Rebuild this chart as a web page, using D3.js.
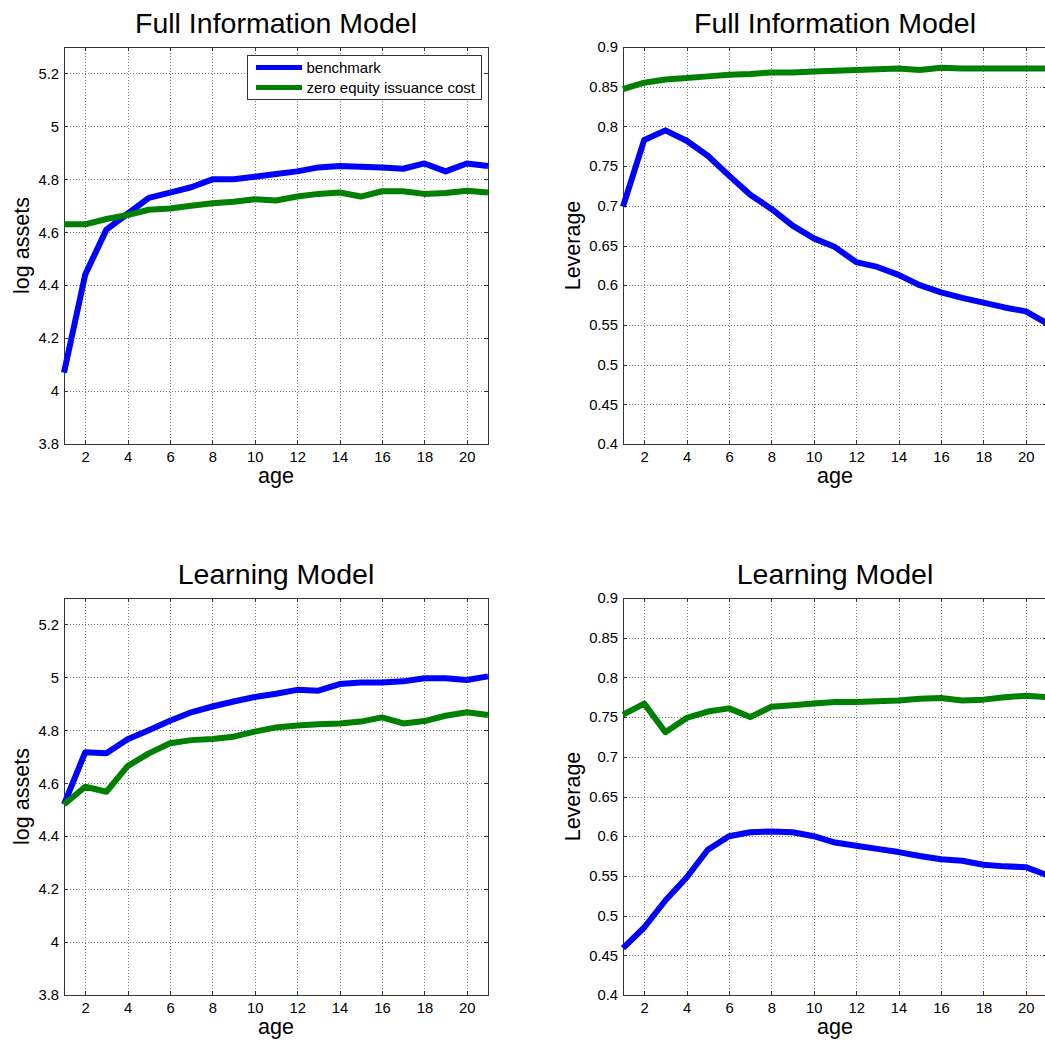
<!DOCTYPE html>
<html>
<head>
<meta charset="utf-8">
<script src="https://cdn.jsdelivr.net/npm/d3@7"></script>
<style>
  html, body { margin: 0; padding: 0; background: #fff; }
  svg { display: block; font-family: "Liberation Sans", Arial, Helvetica, sans-serif; }
</style>
</head>
<body>
<svg id="chart" width="1045" height="1042"></svg>
<script>
// Firm age (years since entry)
const ages = [1, 2, 3, 4, 5, 6, 7, 8, 9, 10, 11, 12, 13, 14, 15, 16, 17, 18, 19, 20, 21];

// Full information model: mean log assets by age
const fullAssetsBenchmark = [4.07, 4.44, 4.61, 4.67, 4.73, 4.75, 4.77, 4.80, 4.80, 4.81, 4.82, 4.83, 4.845, 4.85, 4.848, 4.845, 4.84, 4.86, 4.83, 4.86, 4.85];
const fullAssetsZeroCost  = [4.63, 4.63, 4.65, 4.665, 4.685, 4.69, 4.70, 4.71, 4.715, 4.725, 4.72, 4.735, 4.745, 4.75, 4.735, 4.755, 4.755, 4.745, 4.748, 4.757, 4.75];

// Full information model: mean leverage by age
const fullLevBenchmark = [0.699, 0.783, 0.795, 0.782, 0.763, 0.738, 0.714, 0.696, 0.675, 0.659, 0.648, 0.629, 0.623, 0.613, 0.600, 0.591, 0.584, 0.578, 0.572, 0.567, 0.552];
const fullLevZeroCost  = [0.847, 0.855, 0.859, 0.861, 0.863, 0.865, 0.866, 0.868, 0.868, 0.869, 0.870, 0.871, 0.872, 0.873, 0.871, 0.874, 0.873, 0.873, 0.873, 0.873, 0.873];

// Learning model: mean log assets by age
const learnAssetsBenchmark = [4.52, 4.717, 4.713, 4.766, 4.80, 4.836, 4.868, 4.89, 4.909, 4.926, 4.938, 4.953, 4.95, 4.975, 4.981, 4.981, 4.985, 4.997, 4.997, 4.99, 5.004];
const learnAssetsZeroCost  = [4.52, 4.587, 4.568, 4.665, 4.713, 4.751, 4.763, 4.767, 4.776, 4.795, 4.811, 4.818, 4.823, 4.826, 4.833, 4.849, 4.826, 4.835, 4.855, 4.868, 4.858];

// Learning model: mean leverage by age
const learnLevBenchmark = [0.459, 0.485, 0.519, 0.548, 0.583, 0.600, 0.605, 0.606, 0.605, 0.600, 0.592, 0.588, 0.584, 0.580, 0.575, 0.571, 0.569, 0.564, 0.562, 0.561, 0.551];
const learnLevZeroCost  = [0.753, 0.767, 0.731, 0.749, 0.757, 0.761, 0.750, 0.763, 0.765, 0.767, 0.769, 0.769, 0.770, 0.771, 0.773, 0.774, 0.771, 0.772, 0.775, 0.777, 0.775];

// Axis ticks
const ageTicks = [2, 4, 6, 8, 10, 12, 14, 16, 18, 20];
const assetTicks = [3.8, 4, 4.2, 4.4, 4.6, 4.8, 5, 5.2];
const leverageTicks = [0.4, 0.45, 0.5, 0.55, 0.6, 0.65, 0.7, 0.75, 0.8, 0.85, 0.9];

const seriesNames = ["benchmark", "zero equity issuance cost"];
const seriesColors = ["#0000ff", "#008000"];

const svg = d3.select("#chart");
svg.append("rect").attr("width", 1045).attr("height", 1042).attr("fill", "#fff");

const fmt = d => String(+d.toFixed(2));

function panel(opts) {
  const { left, top, width, height, title, ylabel, yDomain, yTicks, series, legend, ylabelX } = opts;
  const g = svg.append("g").attr("transform", `translate(${left},${top})`);
  const x = d3.scaleLinear().domain([1, 21]).range([0, width]);
  const y = d3.scaleLinear().domain(yDomain).range([height, 0]);

  // dotted grid
  const grid = g.append("g").attr("class", "grid");
  grid.append("g")
    .attr("transform", `translate(0,${height})`)
    .call(d3.axisBottom(x).tickValues(ageTicks).tickSize(-height).tickFormat(""))
    .call(s => s.select(".domain").remove());
  grid.append("g")
    .call(d3.axisLeft(y).tickValues(yTicks).tickSize(-width).tickFormat(""))
    .call(s => s.select(".domain").remove());
  grid.selectAll("line")
    .attr("stroke", "#7a7a7a")
    .attr("stroke-width", 1)
    .attr("stroke-dasharray", "1,2")
    .attr("shape-rendering", "crispEdges");

  // frame
  g.append("rect")
    .attr("x", 0).attr("y", 0).attr("width", width).attr("height", height)
    .attr("fill", "none").attr("stroke", "#333").attr("stroke-width", 1)
    .attr("shape-rendering", "crispEdges");

  // axes with inward ticks on all four sides
  const tick = 4;
  const styleAxis = s => {
    s.select(".domain").remove();
    s.selectAll("line").attr("stroke", "#333").attr("shape-rendering", "crispEdges");
    s.selectAll("text").attr("fill", "#000").style("font-size", "14.8px")
      .style("font-family", '"Liberation Sans", Arial, sans-serif');
  };
  g.append("g").attr("transform", `translate(0,${height})`)
    .call(d3.axisBottom(x).tickValues(ageTicks).tickSizeInner(-tick).tickSizeOuter(0).tickPadding(7.5).tickFormat(d3.format("d")))
    .call(styleAxis);
  g.append("g")
    .call(d3.axisTop(x).tickValues(ageTicks).tickSizeInner(-tick).tickSizeOuter(0).tickFormat(""))
    .call(styleAxis);
  g.append("g")
    .call(d3.axisLeft(y).tickValues(yTicks).tickSizeInner(-tick).tickSizeOuter(0).tickPadding(5).tickFormat(fmt))
    .call(styleAxis);
  g.append("g").attr("transform", `translate(${width},0)`)
    .call(d3.axisRight(y).tickValues(yTicks).tickSizeInner(-tick).tickSizeOuter(0).tickFormat(""))
    .call(styleAxis);

  // series lines
  const line = d3.line().x((d, i) => x(ages[i])).y(d => y(d));
  series.forEach((vals, k) => {
    g.append("path")
      .datum(vals)
      .attr("d", line)
      .attr("fill", "none")
      .attr("stroke", seriesColors[k])
      .attr("stroke-width", 6)
      .attr("stroke-linejoin", "round")
      .attr("stroke-linecap", "butt");
  });

  // title
  g.append("text")
    .attr("x", width / 2).attr("y", -14)
    .attr("text-anchor", "middle")
    .style("font-size", "28.5px")
    .attr("fill", "#000")
    .text(title);

  // x label
  g.append("text")
    .attr("x", width / 2).attr("y", height + 39)
    .attr("text-anchor", "middle")
    .style("font-size", "21.5px")
    .attr("fill", "#000")
    .text("age");

  // y label
  g.append("text")
    .attr("transform", `translate(${ylabelX},${height / 2}) rotate(-90)`)
    .attr("text-anchor", "middle")
    .style("font-size", "21.5px")
    .attr("fill", "#000")
    .text(ylabel);

  if (legend) {
    const lg = g.append("g").attr("transform", `translate(${183.5},${8.5})`);
    lg.append("rect")
      .attr("width", 234).attr("height", 44)
      .attr("fill", "#fff").attr("stroke", "#333").attr("stroke-width", 1)
      .attr("shape-rendering", "crispEdges");
    seriesNames.forEach((name, k) => {
      const yy = 12 + k * 20;
      lg.append("line")
        .attr("x1", 8.5).attr("x2", 54.5).attr("y1", yy).attr("y2", yy)
        .attr("stroke", seriesColors[k]).attr("stroke-width", 5);
      lg.append("text")
        .attr("x", 59).attr("y", yy).attr("dy", "0.35em")
        .style("font-size", "15px")
        .attr("fill", "#000")
        .text(name);
    });
  }
}

const W = 424, H = 397;
panel({ left: 64, top: 47, width: W, height: H, title: "Full Information Model", ylabel: "log assets",
        yDomain: [3.8, 5.3], yTicks: assetTicks, series: [fullAssetsBenchmark, fullAssetsZeroCost], legend: true, ylabelX: -35.5 });
panel({ left: 623, top: 47, width: W, height: H, title: "Full Information Model", ylabel: "Leverage",
        yDomain: [0.4, 0.9], yTicks: leverageTicks, series: [fullLevBenchmark, fullLevZeroCost], legend: false, ylabelX: -43 });
panel({ left: 64, top: 598, width: W, height: H, title: "Learning Model", ylabel: "log assets",
        yDomain: [3.8, 5.3], yTicks: assetTicks, series: [learnAssetsBenchmark, learnAssetsZeroCost], legend: false, ylabelX: -35.5 });
panel({ left: 623, top: 598, width: W, height: H, title: "Learning Model", ylabel: "Leverage",
        yDomain: [0.4, 0.9], yTicks: leverageTicks, series: [learnLevBenchmark, learnLevZeroCost], legend: false, ylabelX: -43 });
</script>
</body>
</html>
